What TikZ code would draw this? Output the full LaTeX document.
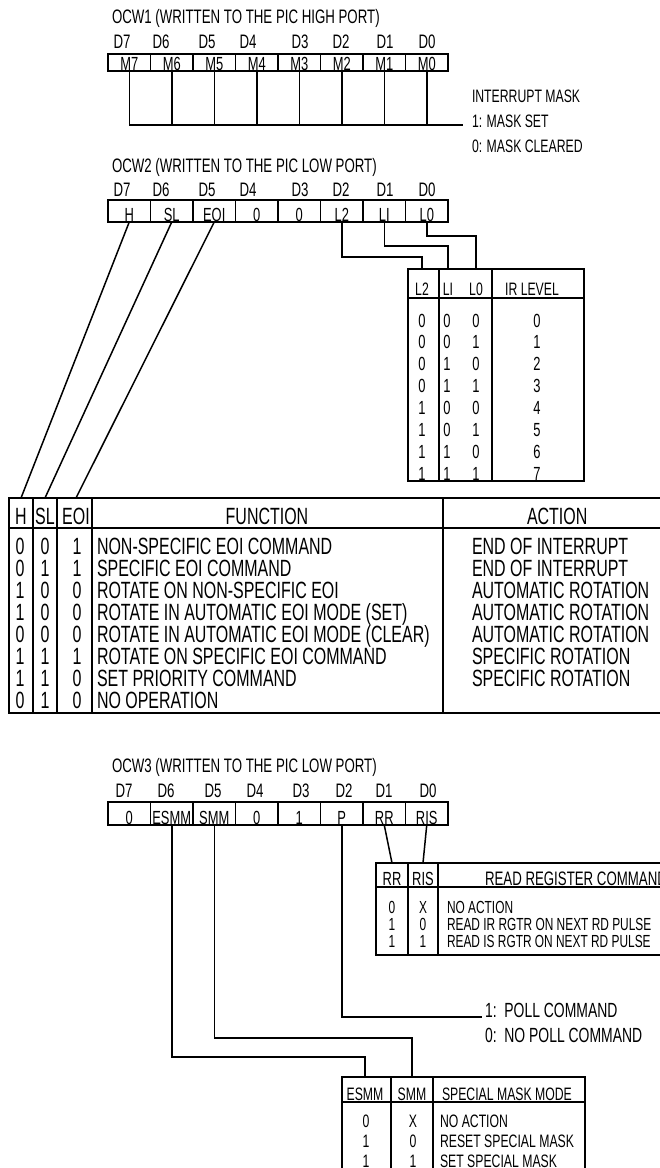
\documentclass[tikz,border=0pt]{standalone}
\usepackage{fontspec}
\setmainfont{Liberation Sans}[FakeStretch=0.68]
\newcommand\fsz[1]{\fontsize{#1}{#1}\selectfont}
\begin{document}
\begin{tikzpicture}[x=1pt,y=-1pt,
  every node/.style={inner sep=0pt, outer sep=0pt},
  ln/.style={line width=1.5pt, line join=miter},
  cell/.style={draw, line width=1.5pt, minimum width=42.5pt, anchor=north west},
  ttl/.style={font=\fsz{19.5}, anchor=base west},
  dlab/.style={font=\fsz{19.5}, anchor=base},
  clab/.style={font=\fsz{19}, anchor=base},
  sm/.style={font=\fsz{18}, anchor=base},
  smw/.style={font=\fsz{18}, anchor=base west},
  fc/.style={font=\fsz{23.5}, anchor=base},
  fcw/.style={font=\fsz{23.5}, anchor=base west},
  rc/.style={font=\fsz{19}, anchor=base},
  rcw/.style={font=\fsz{19.5}, anchor=base west},
  rrc/.style={font=\fsz{17.5}, anchor=base},
  rrcw/.style={font=\fsz{17.5}, anchor=base west},
  tbl/.style={draw, line width=1.5pt, anchor=north west}
]
\useasboundingbox (0,0) rectangle (660,1168);
\clip (0,0) rectangle (660,1168);

% ---------------- OCW1 ----------------
\node[ttl] (t1) at (112,23) {OCW1 (WRITTEN TO THE PIC HIGH PORT)};
\foreach \d/\x [count=\i from 0] in {D7/122,D6/161,D5/207,D4/248,D3/300,D2/341,D1/385,D0/427}
  \node[dlab] (da\i) at (\x,48) {\d};
\foreach \t [count=\i from 0] in {M7,M6,M5,M4,M3,M2,M1,M0} {
  \node[cell, minimum height=17pt] (a\i) at ({108+42.5*\i},54) {};
  \node[clab] (at\i) at ([yshift=1pt]a\i.south) {\t};
}
\coordinate (mk) at (463,125);
\foreach \i in {0,...,7}
  \draw[ln] (a\i.south) -- (a\i.south |- mk);
\draw[ln] (a0.south |- mk) -- (mk);
\node[smw] (im) at (472,102) {INTERRUPT MASK};
\node[smw] (ms) at (472,127) {1: MASK SET};
\node[smw] (mc) at (472,152) {0: MASK CLEARED};

% ---------------- OCW2 ----------------
\node[ttl] (t2) at (112,172) {OCW2 (WRITTEN TO THE PIC LOW PORT)};
\foreach \d/\x [count=\i from 0] in {D7/122,D6/161,D5/207,D4/248,D3/300,D2/341,D1/385,D0/427}
  \node[dlab] (db\i) at (\x,196) {\d};
\foreach \t [count=\i from 0] in {H,SL,EOI,0,0,L2,LI,L0} {
  \node[cell, minimum height=22pt] (b\i) at ({108+42.5*\i},200) {};
  \node[clab] (bt\i) at ([yshift=1pt]b\i.south) {\t};
}

% IR level table
\node[tbl, minimum width=176pt, minimum height=212pt] (ir) at (408,269) {};
\draw[ln] (439,269) -- (439,481);
\draw[ln] (492,269) -- (492,481);
\draw[ln] (408,298) -- (584,298);
\node[sm] (irL2) at (422,295) {L2};
\node[sm] (irLI) at (448,295) {LI};
\node[sm] (irL0) at (476,295) {L0};
\node[sm] (irLV) at (532,295) {IR LEVEL};
\foreach \p/\q/\r/\s [count=\i from 0] in {0/0/0/0,0/0/1/1,0/1/0/2,0/1/1/3,1/0/0/4,1/0/1/5,1/1/0/6,1/1/1/7} {
  \node[rc] (ira\i) at (422,{327+21.9*\i}) {\p};
  \node[rc] (irb\i) at (447,{327+21.9*\i}) {\q};
  \node[rc] (irc\i) at (476,{327+21.9*\i}) {\r};
  \node[rc] (ird\i) at (537,{327+21.9*\i}) {\s};
}
\draw[ln] (b5.south) -- ++(0,35) -| (irL2 |- ir.north);
\draw[ln] (b6.south) -- ++(0,24) -| (irLI |- ir.north);
\draw[ln] (b7.south) -- ++(0,14) -| (irL0 |- ir.north);

% Function table
\node[tbl, minimum width=700pt, minimum height=215pt] (ft) at (9,498) {};
\foreach \x in {33,57,92,443}
  \draw[ln] (\x,498) -- (\x,713);
\draw[ln] (9,528) -- (709,528);
\node[fc] (fH) at (21,524) {H};
\node[fc] (fSL) at (45,524) {SL};
\node[fc] (fEOI) at (76,524) {EOI};
\node[fc] (fFN) at (267,524) {FUNCTION};
\node[fcw] (fAC) at (527,524) {ACTION};
\foreach \h/\s/\e/\f/\a [count=\i from 0] in {
  0/0/1/{NON-SPECIFIC EOI COMMAND}/{END OF INTERRUPT},
  0/1/1/{SPECIFIC EOI COMMAND}/{END OF INTERRUPT},
  1/0/0/{ROTATE ON NON-SPECIFIC EOI}/{AUTOMATIC ROTATION},
  1/0/0/{ROTATE IN AUTOMATIC EOI MODE (SET)}/{AUTOMATIC ROTATION},
  0/0/0/{ROTATE IN AUTOMATIC EOI MODE (CLEAR)}/{AUTOMATIC ROTATION},
  1/1/1/{ROTATE ON SPECIFIC EOI COMMAND}/{SPECIFIC ROTATION},
  1/1/0/{SET PRIORITY COMMAND}/{SPECIFIC ROTATION},
  0/1/0/{NO OPERATION}/{}} {
  \node[fc] (fh\i) at (20,{554+22*\i}) {\h};
  \node[fc] (fs\i) at (45,{554+22*\i}) {\s};
  \node[fc] (fe\i) at (77,{554+22*\i}) {\e};
  \node[fcw] (ff\i) at (97,{554+22*\i}) {\f};
  \node[fcw] (fa\i) at (472,{554+22*\i}) {\a};
}
\draw[ln] (b0.south) -- (fH |- ft.north);
\draw[ln] (b1.south) -- (fSL |- ft.north);
\draw[ln] (b2.south) -- (fEOI |- ft.north);

% ---------------- OCW3 ----------------
\node[ttl] (t3) at (112,772) {OCW3 (WRITTEN TO THE PIC LOW PORT)};
\foreach \d/\x [count=\i from 0] in {D7/124,D6/166,D5/213,D4/255,D3/301,D2/344,D1/384,D0/428}
  \node[dlab] (dc\i) at (\x,797) {\d};
\foreach \t [count=\i from 0] in {0,ESMM,SMM,0,1,P,RR,RIS} {
  \node[cell, minimum height=23pt] (c\i) at ({108+42.5*\i},802) {};
  \node[clab] (ct\i) at ([yshift=1pt]c\i.south) {\t};
}

% Read register table
\node[tbl, minimum width=300pt, minimum height=92pt] (rt) at (376,863) {};
\draw[ln] (408,863) -- (408,955);
\draw[ln] (438,863) -- (438,955);
\draw[ln] (376,887) -- (676,887);
\node[rc] (rrH) at (392,885) {RR};
\node[rc] (risH) at (423,885) {RIS};
\node[rcw] (rrC) at (485,885) {READ REGISTER COMMAND};
\foreach \p/\q/\t [count=\i from 0] in {0/X/{NO ACTION},1/0/{READ IR RGTR ON NEXT RD PULSE},1/1/{READ IS RGTR ON NEXT RD PULSE}} {
  \node[rrc] (rra\i) at (392,{913+17*\i}) {\p};
  \node[rrc] (rrb\i) at (423,{913+17*\i}) {\q};
  \node[rrcw] (rrt\i) at (447,{913+17*\i}) {\t};
}
\draw[ln] (c6.south) -- (rrH |- rt.north);
\draw[ln] (c7.south) -- (risH |- rt.north);

% Poll
\node[font=\fsz{20.5}, anchor=base west] (p1) at (485,1017) {1:\ \ POLL COMMAND};
\node[font=\fsz{20.5}, anchor=base west] (p0) at (485,1042) {0:\ \ NO POLL COMMAND};
\draw[ln] (c5.south) |- ([xshift=-3pt]p1.base west);

% Special mask mode table
\node[tbl, minimum width=243pt, minimum height=115pt] (st) at (342,1077) {};
\draw[ln] (391,1077) -- (391,1192);
\draw[ln] (433,1077) -- (433,1192);
\draw[ln] (342,1102) -- (585,1102);
\node[sm] (sE) at (365,1100) {ESMM};
\node[sm] (sS) at (412,1100) {SMM};
\node[smw] (sM) at (442,1100) {SPECIAL MASK MODE};
\foreach \p/\q/\t [count=\i from 0] in {0/X/{NO ACTION},1/0/{RESET SPECIAL MASK},1/1/{SET SPECIAL MASK}} {
  \node[sm] (sa\i) at (366,{1127+20*\i}) {\p};
  \node[sm] (sb\i) at (413,{1127+20*\i}) {\q};
  \node[smw] (sc\i) at (440,{1127+20*\i}) {\t};
}
\draw[ln] (c1.south) -- ++(0,232) -| (sE |- st.north);
\draw[ln] (c2.south) -- ++(0,213) -| (sS |- st.north);
\end{tikzpicture}
\end{document}
